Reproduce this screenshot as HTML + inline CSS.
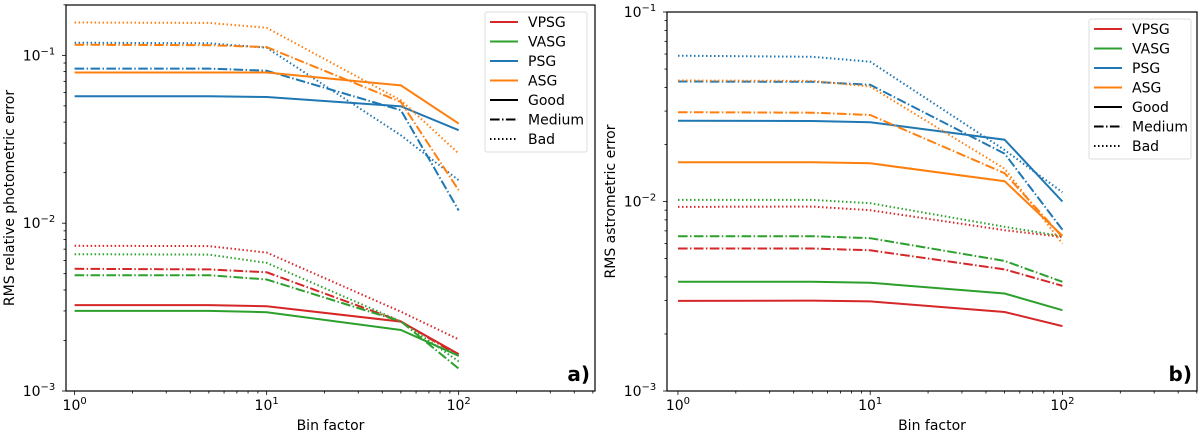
<!DOCTYPE html>
<html><head><meta charset="utf-8"><style>
html,body{margin:0;padding:0;background:#fff;width:1200px;height:435px;overflow:hidden}
svg text{font-family:"DejaVu Sans","Liberation Sans",sans-serif;fill:#000}
</style></head><body>
<svg id="chart" width="1200" height="435" viewBox="0 0 1200 435" xmlns="http://www.w3.org/2000/svg"></svg>
<script>
const binFactors=[1,5,10,50,100];
const seriesNames=['VPSG','VASG','PSG','ASG'];
const qualityNames=['Good','Medium','Bad'];
// panel a) photometric
const phot_VPSG_good=[0.00325,0.00325,0.0032,0.00259,0.00166];
const phot_VPSG_medium=[0.00535,0.0053,0.0051,0.0026,0.00162];
const phot_VPSG_bad=[0.00733,0.0073,0.00668,0.00297,0.00203];
const phot_VASG_good=[0.003,0.003,0.00295,0.00231,0.00162];
const phot_VASG_medium=[0.0049,0.0049,0.00462,0.0026,0.00136];
const phot_VASG_bad=[0.00653,0.0065,0.0058,0.0026,0.0015];
const phot_PSG_good=[0.057,0.057,0.0565,0.0497,0.0358];
const phot_PSG_medium=[0.0834,0.0834,0.081,0.0471,0.0119];
const phot_PSG_bad=[0.119,0.118,0.111,0.0334,0.018];
const phot_ASG_good=[0.079,0.079,0.079,0.0662,0.0392];
const phot_ASG_medium=[0.1157,0.115,0.112,0.0527,0.0157];
const phot_ASG_bad=[0.157,0.156,0.146,0.054,0.026];
// panel b) astrometric
const astr_VPSG_good=[0.00299,0.003,0.00297,0.00261,0.0022];
const astr_VPSG_medium=[0.00565,0.00565,0.00553,0.00438,0.00359];
const astr_VPSG_bad=[0.00937,0.0094,0.009,0.00706,0.0065];
const astr_VASG_good=[0.00377,0.00377,0.00373,0.00327,0.00267];
const astr_VASG_medium=[0.00656,0.00656,0.0064,0.00486,0.00377];
const astr_VASG_bad=[0.0102,0.0102,0.0098,0.00735,0.00656];
const astr_PSG_good=[0.0267,0.0266,0.0262,0.0212,0.01];
const astr_PSG_medium=[0.043,0.0428,0.0413,0.0179,0.0071];
const astr_PSG_bad=[0.0588,0.058,0.0547,0.0187,0.0112];
const astr_ASG_good=[0.0161,0.0161,0.0159,0.0128,0.0066];
const astr_ASG_medium=[0.0296,0.0294,0.0286,0.0141,0.0065];
const astr_ASG_bad=[0.0435,0.0433,0.0404,0.0149,0.006];

const colors={VPSG:'#d62728',VASG:'#2ca02c',PSG:'#1f77b4',ASG:'#ff7f0e'};
const dashes={Good:'',Medium:'9.6,2.4,1.5,2.4',Bad:'1.5,2.5'};
const NS='http://www.w3.org/2000/svg';
const svg=document.getElementById('chart');
function mk(tag,attrs,parent){const e=document.createElementNS(NS,tag);for(const k in attrs)e.setAttribute(k,attrs[k]);(parent||svg).appendChild(e);return e;}

const panels=[
 {id:'a',x0:66,x1:595,y0:5,y1:391,xlog0:-0.045,xlog1:2.71,ylog0:-3,ylog1:-0.7,ylabel:'RMS relative photometric error',tag:'a)',
  data:{VPSG:[phot_VPSG_good,phot_VPSG_medium,phot_VPSG_bad],VASG:[phot_VASG_good,phot_VASG_medium,phot_VASG_bad],PSG:[phot_PSG_good,phot_PSG_medium,phot_PSG_bad],ASG:[phot_ASG_good,phot_ASG_medium,phot_ASG_bad]},
  leg:{x:485,y:12,w:102,h:140}},
 {id:'b',x0:667,x1:1197,y0:12,y1:391,xlog0:-0.057,xlog1:2.7,ylog0:-3,ylog1:-1,ylabel:'RMS  astrometric error',tag:'b)',
  data:{VPSG:[astr_VPSG_good,astr_VPSG_medium,astr_VPSG_bad],VASG:[astr_VASG_good,astr_VASG_medium,astr_VASG_bad],PSG:[astr_PSG_good,astr_PSG_medium,astr_PSG_bad],ASG:[astr_ASG_good,astr_ASG_medium,astr_ASG_bad]},
  leg:{x:1089,y:19,w:102,h:140}}
];

panels.forEach(p=>{
  const g=mk('g',{});
  
  
  const X=v=>p.x0+(Math.log10(v)-p.xlog0)/(p.xlog1-p.xlog0)*(p.x1-p.x0);
  const Y=v=>p.y1-(Math.log10(v)-p.ylog0)/(p.ylog1-p.ylog0)*(p.y1-p.y0);
  seriesNames.forEach(s=>{
    qualityNames.forEach((q,qi)=>{
      const vals=p.data[s][qi];
      const pts=binFactors.map((b,i)=>X(b).toFixed(1)+','+Y(vals[i]).toFixed(1)).join(' ');
      const l=mk('polyline',{points:pts,fill:'none',stroke:colors[s],'stroke-width':2,'stroke-dasharray':dashes[q]},g);
      
      
    });
  });
  const fr=mk('rect',{x:p.x0,y:p.y0,width:p.x1-p.x0,height:p.y1-p.y0,fill:'none',stroke:'#000','stroke-width':1.2},g);
  
  
  for(let d=0;d<=2;d++){
    for(let m=1;m<=9;m++){
      const v=m*Math.pow(10,d);const xx=X(v);
      if(xx<p.x0||xx>p.x1)continue;
      mk('line',{x1:xx,x2:xx,y1:p.y1,y2:p.y1+(m===1?4:2.5),stroke:'#000','stroke-width':0.8},g);
      if(m===1){
        const t=mk('text',{x:xx,y:p.y1+19,'font-size':14,'text-anchor':'middle'},g);
        
        
        t.innerHTML='10<tspan dy="-6" font-size="10">'+d+'</tspan>';
      }
    }
  }
  for(let d=-3;d<=-1;d++){
    for(let m=1;m<=9;m++){
      const v=m*Math.pow(10,d);const yy=Y(v);
      if(yy<p.y0-0.5||yy>p.y1+0.5)continue;
      mk('line',{x1:p.x0,x2:p.x0-(m===1?4:2.5),y1:yy,y2:yy,stroke:'#000','stroke-width':0.8},g);
      if(m===1){
        const t=mk('text',{x:p.x0-27,y:yy+5,'font-size':14,'text-anchor':'middle'},g);
        
        
        t.innerHTML='10<tspan dy="-6" font-size="10">\u2212'+(-d)+'</tspan>';
      }
    }
  }
  const xl=mk('text',{x:(p.x0+p.x1)/2,y:430,'font-size':14,'text-anchor':'middle'},g);
  
  
  xl.textContent='Bin factor';
  const yc=(p.y0+p.y1)/2;const yx=p.x0-52;
  const yl=mk('text',{x:yx,y:yc,'font-size':14,'text-anchor':'middle',transform:'rotate(-90 '+yx+' '+yc+')'},g);
  
  
  yl.textContent=p.ylabel;
  const tg=mk('text',{x:p.x1-5,y:p.y1-10,'font-size':20,'font-weight':'bold','text-anchor':'end'},g);
  
  
  tg.textContent=p.tag;
  const lg=mk('g',{},g);
  
  
  mk('rect',{x:p.leg.x,y:p.leg.y,width:p.leg.w,height:p.leg.h,fill:'#fff',stroke:'#ddd','stroke-width':1,rx:2},lg);
  const entries=seriesNames.map(s=>({label:s,color:colors[s],dash:''})).concat(qualityNames.map(q=>({label:q,color:'#000',dash:dashes[q]})));
  entries.forEach((e,i)=>{
    const yy=p.leg.y+10+i*19.5;
    const eg=mk('g',{},lg);
    
    
    mk('line',{x1:p.leg.x+5,x2:p.leg.x+33,y1:yy,y2:yy,stroke:e.color,'stroke-width':2,'stroke-dasharray':e.dash},eg);
    const t=mk('text',{x:p.leg.x+43,y:yy+5,'font-size':14},eg);
    t.textContent=e.label;
  });
});
</script>
</body></html>
